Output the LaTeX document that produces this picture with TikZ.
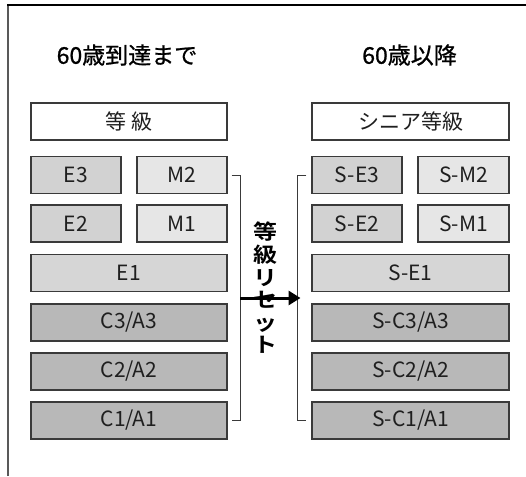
\documentclass[tikz,border=0pt]{standalone}
\usepackage{fontspec}
\usetikzlibrary{arrows.meta}
\newfontfamily\cjk{Noto Sans CJK JP}
\newfontfamily\cjkhead[FakeBold=0.9]{Noto Sans CJK JP}
\newfontfamily\cjkb{Noto Sans CJK JP Bold}
\definecolor{boxline}{HTML}{3A3A3A}
\definecolor{fillE}{HTML}{D2D2D2}
\definecolor{fillM}{HTML}{E6E6E6}
\definecolor{fillEone}{HTML}{D6D6D6}
\definecolor{fillC}{HTML}{B8B8B8}
\begin{document}
\begin{tikzpicture}[x=1pt,y=-1pt,
  gbox/.style={draw=boxline, line width=1.1pt, minimum height=37pt, inner sep=0pt, font=\cjk\fontsize{21}{24}\selectfont, text=black!88},
  wide/.style={gbox, minimum width=196pt},
  narrow/.style={gbox, minimum width=90pt},
  head/.style={font=\cjkhead\fontsize{23}{28}\selectfont},
  brk/.style={draw=boxline, line width=0.8pt}
]
\useasboundingbox (0,0) rectangle (526,476);
\draw[line width=1.4pt, black!65] (8,476) -- (8,5);
\draw[line width=1.4pt, black] (7.3,5) -- (526,5);

\node[head] (hl) at (127,55) {60歳到達まで};
\node[head] (hr) at (409.5,55) {60歳以降};

% left column
\node[wide, fill=white] (grade) at (129,121.5) {等 級};
\node[narrow, fill=fillE] (E3) at (76,175) {E3};
\node[narrow, fill=fillM] (M2) at (182,175) {M2};
\node[narrow, fill=fillE] (E2) at (76,223.5) {E2};
\node[narrow, fill=fillM] (M1) at (182,223.5) {M1};
\node[wide, fill=fillEone] (E1) at (129,273) {E1};
\node[wide, fill=fillC] (C3) at (129,322.5) {C3/A3};
\node[wide, fill=fillC] (C2) at (129,371.5) {C2/A2};
\node[wide, fill=fillC] (C1) at (129,420.5) {C1/A1};

% right column
\node[wide, minimum width=197pt, fill=white] (sgrade) at (410.5,121.5) {シニア等級};
\node[narrow, fill=fillE] (SE3) at (357,175) {S-E3};
\node[narrow, minimum width=91pt, fill=fillM] (SM2) at (463.5,175) {S-M2};
\node[narrow, fill=fillE] (SE2) at (357,223.5) {S-E2};
\node[narrow, minimum width=91pt, fill=fillM] (SM1) at (463.5,223.5) {S-M1};
\node[wide, minimum width=197pt, fill=fillEone] (SE1) at (410.5,273) {S-E1};
\node[wide, minimum width=197pt, fill=fillC] (SC3) at (410.5,322.5) {S-C3/A3};
\node[wide, minimum width=197pt, fill=fillC] (SC2) at (410.5,371.5) {S-C2/A2};
\node[wide, minimum width=197pt, fill=fillC] (SC1) at (410.5,420.5) {S-C1/A1};

% brackets
\draw[brk] ([xshift=4pt]M2.east) -- ++(9,0) |- ([xshift=4pt]C1.east);
\draw[brk] ([xshift=-5pt]SE3.west) -- ++(-9,0) |- ([xshift=-5pt]SC1.west);

% arrow
\coordinate (al) at (240,298);
\coordinate (ar) at (300.5,298);
\draw[line width=3pt, -{Triangle[length=12pt, width=14pt]}] (al) -- (ar);

\node[align=center, inner sep=0pt, yscale=0.86, transform shape, font=\cjkb\fontsize{24}{26.3}\selectfont] (reset) at (265,288) {等\\級\\リ\\セ\\ッ\\ト};
\end{tikzpicture}
\end{document}
